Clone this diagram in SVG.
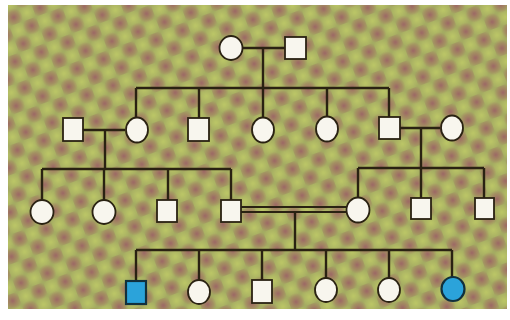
<svg xmlns="http://www.w3.org/2000/svg" width="510" height="320" viewBox="0 0 510 320">
<defs>
<radialGradient id="spot">
<stop offset="0" stop-color="#9a5a66" stop-opacity="0.85"/>
<stop offset="0.6" stop-color="#a26a62" stop-opacity="0.45"/>
<stop offset="1" stop-color="#a26a62" stop-opacity="0"/>
</radialGradient>
<radialGradient id="glow">
<stop offset="0" stop-color="#c4d068" stop-opacity="0.75"/>
<stop offset="1" stop-color="#c4d068" stop-opacity="0"/>
</radialGradient>
<pattern id="bgpat" x="0" y="0" width="28" height="28" patternUnits="userSpaceOnUse" patternTransform="rotate(-20)">
<rect width="28" height="28" fill="#a4ab62"/>
<circle cx="7" cy="7" r="9" fill="url(#glow)"/>
<circle cx="21" cy="21" r="9" fill="url(#glow)"/>
<circle cx="21" cy="7" r="9" fill="url(#spot)"/>
<circle cx="7" cy="21" r="9" fill="url(#spot)"/>
</pattern>
</defs>
<style>
.ln{stroke:#2a2212;stroke-width:2.4;fill:none}
.dl{stroke:#2a2212;stroke-width:1.8;fill:none}
.n{fill:#f8f6ee;stroke:#2a2212;stroke-width:1.8}
.a{fill:#2ba3da;stroke:#12303c;stroke-width:2.2}
</style>
<rect width="510" height="320" fill="#ffffff"/>
<rect x="8" y="5" width="499" height="304" fill="url(#bgpat)"/>
<g id="connectors">
<line class="ln" x1="243" y1="48" x2="285" y2="48"/>
<line class="ln" x1="263" y1="48" x2="263" y2="88"/>
<line class="ln" x1="136" y1="88" x2="389" y2="88"/>
<line class="ln" x1="136" y1="88" x2="136" y2="117"/>
<line class="ln" x1="199" y1="88" x2="199" y2="118"/>
<line class="ln" x1="263" y1="88" x2="263" y2="117"/>
<line class="ln" x1="327" y1="88" x2="327" y2="116"/>
<line class="ln" x1="389" y1="88" x2="389" y2="117"/>
<line class="ln" x1="83" y1="130" x2="125" y2="130"/>
<line class="ln" x1="105" y1="130" x2="105" y2="169"/>
<line class="ln" x1="42" y1="169" x2="231" y2="169"/>
<line class="ln" x1="42" y1="169" x2="42" y2="200"/>
<line class="ln" x1="104" y1="169" x2="104" y2="200"/>
<line class="ln" x1="168" y1="169" x2="168" y2="200"/>
<line class="ln" x1="231" y1="169" x2="231" y2="200"/>
<line class="ln" x1="400" y1="128" x2="440" y2="128"/>
<line class="ln" x1="421" y1="128" x2="421" y2="168"/>
<line class="ln" x1="358" y1="168" x2="484" y2="168"/>
<line class="ln" x1="358" y1="168" x2="358" y2="198"/>
<line class="ln" x1="421" y1="168" x2="421" y2="198"/>
<line class="ln" x1="484" y1="168" x2="484" y2="198"/>
<line class="dl" x1="241" y1="207" x2="347" y2="207"/>
<line class="dl" x1="241" y1="212" x2="347" y2="212"/>
<line class="ln" x1="295" y1="212" x2="295" y2="250"/>
<line class="ln" x1="136" y1="250" x2="452" y2="250"/>
<line class="ln" x1="136" y1="250" x2="136" y2="281"/>
<line class="ln" x1="199" y1="250" x2="199" y2="280"/>
<line class="ln" x1="262" y1="250" x2="262" y2="280"/>
<line class="ln" x1="326" y1="250" x2="326" y2="278"/>
<line class="ln" x1="389" y1="250" x2="389" y2="278"/>
<line class="ln" x1="452" y1="250" x2="452" y2="277"/>
</g>
<g id="I-1"><ellipse class="n" cx="231" cy="48" rx="11.5" ry="12"/></g>
<g id="I-2"><rect class="n" x="285" y="37" width="21" height="22"/></g>
<g id="II-1"><rect class="n" x="63" y="118" width="20" height="23"/></g>
<g id="II-2"><ellipse class="n" cx="137" cy="130" rx="11" ry="12.5"/></g>
<g id="II-3"><rect class="n" x="188" y="118" width="21" height="23"/></g>
<g id="II-4"><ellipse class="n" cx="263" cy="130" rx="11" ry="12.5"/></g>
<g id="II-5"><ellipse class="n" cx="327" cy="129" rx="11" ry="12.5"/></g>
<g id="II-6"><rect class="n" x="379" y="117" width="21" height="22"/></g>
<g id="II-7"><ellipse class="n" cx="452" cy="128" rx="11" ry="12.5"/></g>
<g id="III-1"><ellipse class="n" cx="42" cy="212" rx="11.5" ry="12"/></g>
<g id="III-2"><ellipse class="n" cx="104" cy="212" rx="11.5" ry="12"/></g>
<g id="III-3"><rect class="n" x="157" y="200" width="20" height="22"/></g>
<g id="III-4"><rect class="n" x="221" y="200" width="20" height="22"/></g>
<g id="III-5"><ellipse class="n" cx="358" cy="210" rx="11.5" ry="12.5"/></g>
<g id="III-6"><rect class="n" x="411" y="198" width="20" height="21"/></g>
<g id="III-7"><rect class="n" x="475" y="198" width="19" height="21"/></g>
<g id="IV-1"><rect class="a" x="126" y="281" width="20" height="23"/></g>
<g id="IV-2"><ellipse class="n" cx="199" cy="292" rx="11" ry="12"/></g>
<g id="IV-3"><rect class="n" x="252" y="280" width="20" height="23"/></g>
<g id="IV-4"><ellipse class="n" cx="326" cy="290" rx="11" ry="12"/></g>
<g id="IV-5"><ellipse class="n" cx="389" cy="290" rx="11" ry="12"/></g>
<g id="IV-6"><ellipse class="a" cx="453" cy="289" rx="11.5" ry="12"/></g>
</svg>
